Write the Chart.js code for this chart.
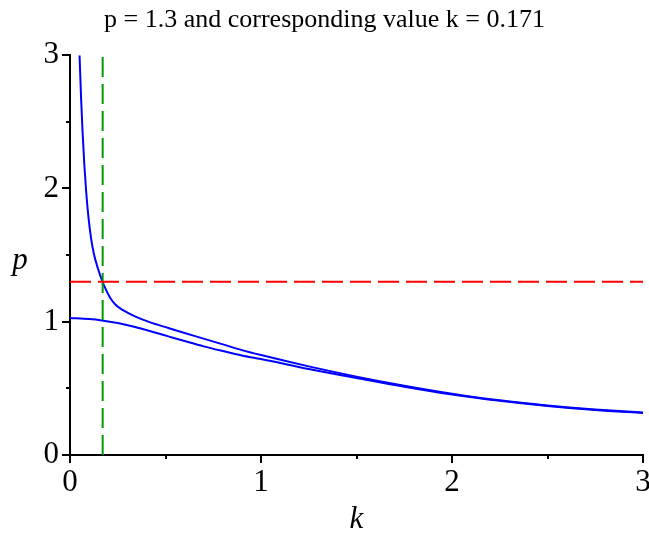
<!DOCTYPE html>
<html>
<head>
<meta charset="utf-8">
<script src="https://cdn.jsdelivr.net/npm/chart.js@4/dist/chart.umd.min.js"></script>
<style>html,body{margin:0;padding:0;background:#fff}</style>
</head>
<body>
<canvas id="chart" width="649" height="534"></canvas>
<script>
// values
const upperK=[0.05,0.058,0.066,0.075,0.085,0.097,0.11,0.125,0.145,0.17,0.19,0.21,0.24,0.28,0.34,0.42,0.515,0.6,0.69,0.8,0.9,1.0,1.25,1.5,1.75,2.0,2.25,2.5,2.75,3.0];
const upperP=[3.0,2.68,2.42,2.18,1.97,1.78,1.63,1.51,1.405,1.3,1.235,1.18,1.125,1.085,1.04,0.995,0.953,0.915,0.877,0.83,0.787,0.75,0.665,0.588,0.52,0.46,0.41,0.372,0.342,0.318];
const lowerK=[0,0.1,0.166,0.25,0.341,0.43,0.515,0.6,0.7,0.8,0.9,1.0,1.25,1.5,1.75,2.0,2.25,2.5,2.75,3.0];
const lowerP=[1.028,1.02,1.01,0.99,0.96,0.925,0.89,0.855,0.815,0.78,0.747,0.72,0.645,0.578,0.512,0.454,0.407,0.368,0.337,0.315];
const pLevel=1.3;
const kLevel=0.171;
const kRange=[0,3];
const pRange=[0,3];
const titleText="p = 1.3 and corresponding value k = 0.171";

const serif="'Liberation Serif','Times New Roman',serif";

function pts(xs,ys){return xs.map((x,i)=>({x:x,y:ys[i]}));}

// short ticks on the half values, longer on whole numbers, plus the k and p labels
const tickMarks={
  id:"tickMarks",
  afterDraw(chart){
    const ctx=chart.ctx,a=chart.chartArea;
    ctx.save();
    ctx.strokeStyle="#000";
    ctx.lineWidth=2;
    chart.scales.x.ticks.forEach(t=>{
      const px=Math.round(chart.scales.x.getPixelForValue(t.value));
      const len=Number.isInteger(t.value)?8:4;
      ctx.beginPath();ctx.moveTo(px,a.bottom);ctx.lineTo(px,a.bottom+len);ctx.stroke();
    });
    chart.scales.y.ticks.forEach(t=>{
      const py=Math.round(chart.scales.y.getPixelForValue(t.value));
      const len=Number.isInteger(t.value)?8:4;
      ctx.beginPath();ctx.moveTo(a.left,py);ctx.lineTo(a.left-len,py);ctx.stroke();
    });
    ctx.fillStyle="#000";
    ctx.font="italic 31px "+serif;
    ctx.textAlign="center";
    ctx.textBaseline="middle";
    ctx.fillText("k",chart.scales.x.getPixelForValue(1.5),a.bottom+65);
    ctx.fillText("p",a.left-50,chart.scales.y.getPixelForValue(1.5)+6);
    ctx.restore();
  }
};

new Chart(document.getElementById("chart"),{
  type:"line",
  data:{
    datasets:[
      {data:pts([kRange[0],kRange[1]],[pLevel,pLevel]),borderColor:"#ff0000",borderWidth:2,borderDash:[21,7],tension:0},
      {data:pts([kLevel,kLevel],[pRange[0],pRange[1]]),borderColor:"#009900",borderWidth:2,borderDash:[20,7],tension:0},
      {data:pts(lowerK,lowerP),borderColor:"#0000ff",borderWidth:2,cubicInterpolationMode:"monotone"},
      {data:pts(upperK,upperP),borderColor:"#0000ff",borderWidth:2,cubicInterpolationMode:"monotone"}
    ]
  },
  options:{
    responsive:false,
    animation:false,
    devicePixelRatio:1,
    elements:{point:{radius:0}},
    layout:{padding:0},
    plugins:{
      legend:{display:false},
      tooltip:{enabled:false},
      title:{display:true,text:titleText,color:"#000",font:{family:serif,size:26,weight:"normal",lineHeight:1.2},padding:{top:5,bottom:19}}
    },
    scales:{
      x:{
        type:"linear",min:kRange[0],max:kRange[1],
        grid:{display:false,drawTicks:false},
        border:{display:true,color:"#000",width:2},
        ticks:{stepSize:0.5,padding:9,color:"#000",font:{family:serif,size:31},maxRotation:0,
          callback:v=>Number.isInteger(v)?String(v):""},
        afterFit:s=>{s.height=79;s.paddingRight=6;}
      },
      y:{
        type:"linear",min:pRange[0],max:pRange[1],
        grid:{display:false,drawTicks:false},
        border:{display:true,color:"#000",width:2},
        ticks:{stepSize:0.5,padding:11,color:"#000",font:{family:serif,size:31},
          callback:v=>Number.isInteger(v)?String(v):""},
        afterFit:s=>{s.width=70;}
      }
    }
  },
  plugins:[tickMarks]
});
</script>
</body>
</html>
